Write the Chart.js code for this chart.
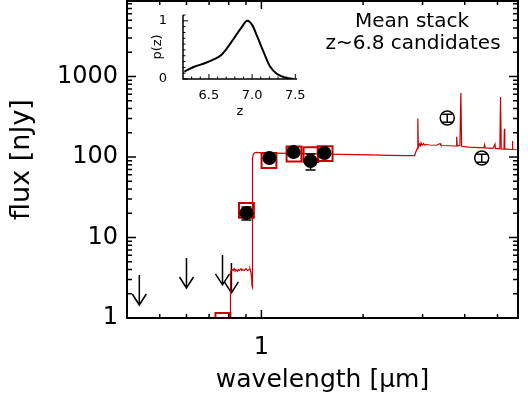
<!DOCTYPE html>
<html><head><meta charset="utf-8">
<script src="https://cdn.jsdelivr.net/npm/chart.js@4.4.0/dist/chart.umd.min.js"></script>
<style>
html,body{margin:0;padding:0;background:#fff;}
#wrap{position:relative;width:528px;height:400px;}
canvas{position:absolute;left:0;top:0;}
#inset{pointer-events:none;}
</style></head><body>
<div id="wrap"><canvas id="main" width="528" height="400"></canvas><canvas id="inset" width="528" height="400"></canvas></div>
<script>
// ---------- data ----------
const specWave = [0.40,0.809,0.810,0.815,0.82,0.825,0.83,0.835,0.84,0.85,0.855,0.86,0.87,0.875,0.88,0.89,0.90,0.91,0.92,0.925,0.93,0.935,0.938,0.940,0.941,0.942,0.946,0.955,0.97,1.00,1.1,1.2,1.3,1.4,1.5,1.7,1.9,2.1,2.4,2.7,2.84,2.87,2.895,2.905,2.915,2.94,2.955,2.97,2.99,3.02,3.04,3.08,3.15,3.3,3.38,3.40,3.6,3.77,3.785,3.80,3.87,3.895,3.915,4.1,4.4,4.56,4.575,4.59,4.85,4.915,4.93,5.08,5.105,5.13,5.225,5.24,5.255,5.52,5.535,5.55,5.75];
const specFlux = [0.3,0.3,3.7,3.9,4.0,3.9,4.1,3.9,4.0,3.8,4.0,3.9,4.1,3.9,4.0,3.9,4.1,3.9,4.0,4.1,3.8,3.2,2.5,2.4,40,95,108,113,114,113,112,111,110,110,109,108,107,106,105,104,104,118,128,300,132,145,138,150,140,147,141,143,141,140,147,139,138,137,178,137,140,624,136,133,131,130,141,130,128,145,128,126,556,126,125,224,126,124,158,124,123];

const modWave = [0.769,0.903,1.053,1.249,1.402,1.544];
const modFlux = [0.93,21.7,90.5,109,107,110];

const detWave = [0.903,1.056,1.245,1.398,1.537];
const detFlux = [20.2,97,115,89,112];
const detErr  = [3.7,8,9,20,9];

const iracWave = [3.55,4.49];
const iracFlux = [305,97];
const iracErr  = [35,11];

const ulWave = [0.435,0.60,0.767,0.815];
const ulFlux = [3.42,5.56,6.07,4.83];

const xTickVals = [1];
const yTickVals = [1,10,100,1000];

const pzZ = [6.215,6.33,6.45,6.56,6.64,6.71,6.79,6.87,6.945,7.0,7.06,7.14,7.21,7.29,7.37,7.48];
const pzP = [0.126,0.21,0.27,0.34,0.41,0.53,0.70,0.87,1.0,0.93,0.73,0.44,0.21,0.086,0.03,0.0];
const pzXTicks = [6.5,7.0,7.5];
const pzYTicks = [0,1];

// ---------- style ----------
const FONT = "'DejaVu Sans', sans-serif";
const RED = '#cc0000';
const xy = (xs, ys) => xs.map((v,i)=>({x:v,y:ys[i]}));
const noPad = s => { s.paddingTop=0; s.paddingBottom=0; s.paddingLeft=0; s.paddingRight=0; };

const mainDecor = {
  id:'mainDecor',
  beforeDatasetsDraw(chart){
    const {ctx, scales:{x,y}} = chart;
    ctx.save();
    ctx.strokeStyle='#000'; ctx.lineWidth=1.5;
    ulWave.forEach((w,i)=>{
      const px=x.getPixelForValue(w), top=y.getPixelForValue(ulFlux[i]), tip=top+30;
      ctx.beginPath(); ctx.moveTo(px,top); ctx.lineTo(px,tip);
      ctx.moveTo(px-7,tip-11); ctx.lineTo(px,tip); ctx.lineTo(px+7,tip-11); ctx.stroke();
    });
    ctx.restore();
  },
  afterDatasetsDraw(chart){
    const {ctx, chartArea:a, scales:{x,y}} = chart;
    ctx.save();
    ctx.strokeStyle='#000'; ctx.lineWidth=1.5;
    function ebar(w,f,e,cap){
      const px=x.getPixelForValue(w), p1=y.getPixelForValue(f-e), p2=y.getPixelForValue(f+e);
      ctx.beginPath(); ctx.moveTo(px,p1); ctx.lineTo(px,p2);
      ctx.moveTo(px-cap,p1); ctx.lineTo(px+cap,p1);
      ctx.moveTo(px-cap,p2); ctx.lineTo(px+cap,p2); ctx.stroke();
    }
    detWave.forEach((w,i)=>ebar(w,detFlux[i],detErr[i],5));
    iracWave.forEach((w,i)=>ebar(w,iracFlux[i],iracErr[i],5));
    ctx.lineWidth=2;
    ctx.strokeRect(a.left,a.top,a.right-a.left,a.bottom-a.top);
    ctx.lineWidth=1.5;
    ctx.beginPath();
    const xMinor=[0.5,0.6,0.7,0.8,0.9,2,3,4,5];
    const xt=(v,len)=>{const p=x.getPixelForValue(v); ctx.moveTo(p,a.bottom); ctx.lineTo(p,a.bottom-len); ctx.moveTo(p,a.top); ctx.lineTo(p,a.top+len);};
    xMinor.forEach(v=>xt(v,4)); xTickVals.forEach(v=>xt(v,8));
    const yt=(v,len)=>{const p=y.getPixelForValue(v); ctx.moveTo(a.left,p); ctx.lineTo(a.left+len,p); ctx.moveTo(a.right,p); ctx.lineTo(a.right-len,p);};
    yTickVals.forEach(k=>{ yt(k,9); for(let m=2;m<=9;m++){ if(m*k<y.max) yt(m*k,5);} });
    ctx.stroke();
    ctx.fillStyle='#000'; ctx.font='20px '+FONT; ctx.textAlign='center'; ctx.textBaseline='middle';
    ctx.fillText('Mean stack',412,22);
    ctx.fillText('z~6.8 candidates',413,44);
    ctx.restore();
  }
};

new Chart(document.getElementById('main'),{
  type:'scatter',
  data:{datasets:[
    {type:'line', data:xy(specWave,specFlux), borderColor:RED, borderWidth:1.2, pointRadius:0, tension:0, order:4},
    {data:xy(modWave,modFlux), pointStyle:'rect', pointRadius:10.5, borderColor:RED, borderWidth:2, backgroundColor:'rgba(0,0,0,0)', clip:0, order:3},
    {data:xy(detWave,detFlux), pointStyle:'circle', pointRadius:7, backgroundColor:'#000', borderColor:'#000', borderWidth:0, order:1},
    {data:xy(iracWave,iracFlux), pointStyle:'circle', pointRadius:7, backgroundColor:'rgba(0,0,0,0)', borderColor:'#000', borderWidth:1.5, order:1}
  ]},
  options:{
    responsive:false, animation:false, devicePixelRatio:1, events:[],
    layout:{autoPadding:false, padding:{left:0,top:1,right:10,bottom:0}},
    plugins:{legend:{display:false}, tooltip:{enabled:false}},
    scales:{
      x:{type:'logarithmic', min:0.4, max:5.75, bounds:'data', position:'bottom',
        grid:{display:false, drawTicks:false}, border:{display:false},
        afterBuildTicks:s=>{s.ticks=xTickVals.map(v=>({value:v}));},
        afterFit:s=>{s.height=82; noPad(s);},
        ticks:{autoSkip:false, maxRotation:0, padding:15, color:'#000', font:{family:FONT,size:24}, callback:v=>String(v)},
        title:{display:true, text:'wavelength [μm]', color:'#000', font:{family:FONT,size:25}, padding:{top:0,bottom:5}}
      },
      y:{type:'logarithmic', min:1, max:8670, bounds:'data', position:'left',
        grid:{display:false, drawTicks:false}, border:{display:false},
        afterBuildTicks:s=>{s.ticks=yTickVals.map(v=>({value:v}));},
        afterFit:s=>{s.width=127; noPad(s);},
        ticks:{autoSkip:false, padding:9, color:'#000', font:{family:FONT,size:24}, callback:v=>String(v)},
        title:{display:true, text:'flux [nJy]', color:'#000', font:{family:FONT,size:27}, padding:{top:6,bottom:0}}
      }
    }
  },
  plugins:[mainDecor]
});

const insetDecor = {
  id:'insetDecor',
  afterDatasetsDraw(chart){
    const {ctx, chartArea:a, scales:{x,y}} = chart;
    ctx.save();
    ctx.strokeStyle='#000'; ctx.lineWidth=1.5;
    ctx.beginPath();
    ctx.moveTo(a.left,a.top); ctx.lineTo(a.left,a.bottom); ctx.lineTo(a.right,a.bottom);
    ctx.stroke();
    ctx.lineWidth=1;
    ctx.beginPath();
    for(let v=0;v<=1.1001;v+=0.1){const p=y.getPixelForValue(v); const major=Math.abs(v-Math.round(v))<1e-6; ctx.moveTo(a.left,p); ctx.lineTo(a.left+(major?5:2.5),p);}
    for(let v=6.3;v<=7.5001;v+=0.1){const p=x.getPixelForValue(v); const major=Math.abs(v*2-Math.round(v*2))<1e-6; ctx.moveTo(p,a.bottom); ctx.lineTo(p,a.bottom-(major?5:2.5));}
    ctx.stroke();
    ctx.restore();
  }
};

new Chart(document.getElementById('inset'),{
  type:'line',
  data:{datasets:[{data:xy(pzZ,pzP), borderColor:'#000', borderWidth:2, pointRadius:0, cubicInterpolationMode:'monotone'}]},
  options:{
    responsive:false, animation:false, devicePixelRatio:1, events:[],
    layout:{autoPadding:false, padding:{left:150,top:15,right:231,bottom:281}},
    plugins:{legend:{display:false}, tooltip:{enabled:false}},
    scales:{
      x:{type:'linear', min:6.2, max:7.52, bounds:'data',
        grid:{display:false, drawTicks:false}, border:{display:false},
        afterBuildTicks:s=>{s.ticks=pzXTicks.map(v=>({value:v}));},
        afterFit:s=>{s.height=40; noPad(s);},
        ticks:{autoSkip:false, maxRotation:0, padding:9, color:'#000', font:{family:FONT,size:13}, callback:v=>Number(v).toFixed(1)},
        title:{display:true, text:'z', color:'#000', font:{family:FONT,size:13}, padding:0}
      },
      y:{type:'linear', min:0, max:1.1, bounds:'data',
        grid:{display:false, drawTicks:false}, border:{display:false},
        afterBuildTicks:s=>{s.ticks=pzYTicks.map(v=>({value:v}));},
        afterFit:s=>{s.width=33; noPad(s);},
        ticks:{autoSkip:false, padding:16, color:'#000', font:{family:FONT,size:13}, callback:v=>String(v)},
        title:{display:true, text:'p(z)', color:'#000', font:{family:FONT,size:13}, padding:0}
      }
    }
  },
  plugins:[insetDecor]
});
</script>
</body></html>
